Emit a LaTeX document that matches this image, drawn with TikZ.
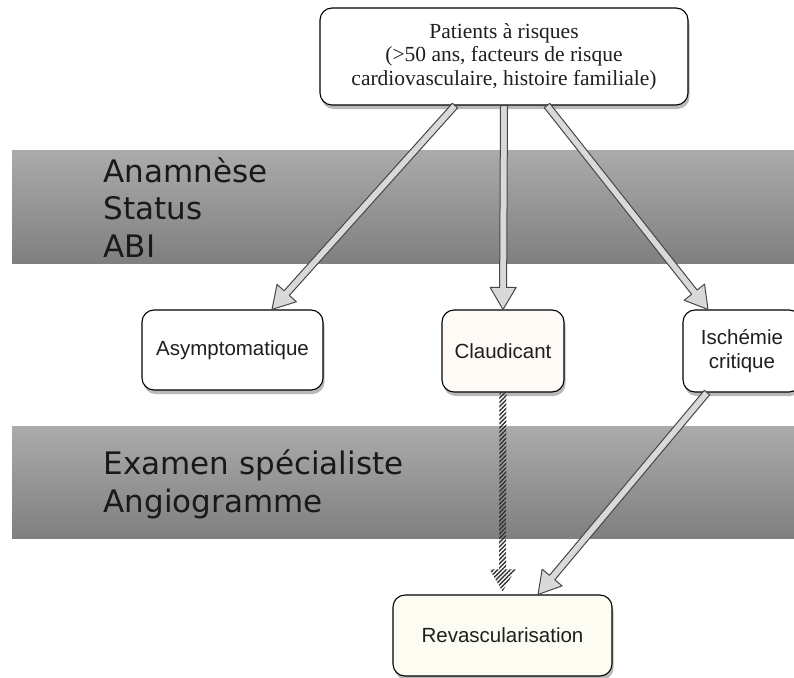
\documentclass[tikz,border=0pt]{standalone}
\usepackage{fontspec}
\setmainfont{Liberation Sans}
\newfontfamily\bandefont{DejaVu Sans}
\newfontfamily\titrefont{Liberation Serif}
\usetikzlibrary{calc,shadows,patterns.meta}

\definecolor{fondclaud}{RGB}{255,250,245}
\definecolor{fondrevasc}{RGB}{252,252,243}

\tikzset{
  boite/.style={draw=black, line width=1.1pt, rounded corners=12pt, fill=white,
    align=center, inner sep=0pt, text=black!88,
    drop shadow={shadow xshift=1.5pt, shadow yshift=-4pt, opacity=0.55},
    font=\fontsize{20.5}{24}\selectfont},
  bande/.style={top color=black!33, bottom color=black!50},
  bandetexte/.style={anchor=base west, text=black!90,
    font=\bandefont\fontsize{31}{37.5}\selectfont},
  fleche/.style={draw=black!72, fill=black!15, line width=1pt, line join=round},
  hachure/.style={pattern={Lines[angle=45,distance=3pt,line width=1.4pt]},
    pattern color=black!80},
}

% grosse fleche creuse d'un point a l'autre
\newcommand{\grossefleche}[3][fleche]{%
  \path[#1] let \p1=($(#3)-(#2)$), \n1={atan2(\y1,\x1)}, \n2={veclen(\x1,\y1)} in
    {[shift={(#2)}, rotate=\n1]
      (0pt,-3.5pt) -- ({\n2-22pt},-3.5pt) -- ({\n2-22pt},-13pt) -- ({\n2},0pt)
      -- ({\n2-22pt},13pt) -- ({\n2-22pt},3.5pt) -- (0pt,3.5pt) -- cycle};%
}

\begin{document}
\begin{tikzpicture}[x=1pt,y=-1pt]
  \useasboundingbox (0,0) rectangle (794,677);

  % Bandes grises
  \shade[bande] (12,150) rectangle (794,263);
  \shade[bande] (12,426) rectangle (794,538);
  \foreach \t/\y [count=\i] in {Anamnèse/182,Status/219.5,ABI/257} {
    \node[bandetexte] (etape\i) at (100,\y) {\t};
  }
  \foreach \t/\y [count=\i] in {Examen spécialiste/474,Angiogramme/512} {
    \node[bandetexte] (examen\i) at (100,\y) {\t};
  }

  % Boites
  \node[boite, minimum width=368pt, minimum height=97pt,
    font=\titrefont\fontsize{21.5}{23.5}\selectfont] (patients) at (504,56.5)
    {Patients à risques\\(>50 ans, facteurs de risque\\cardiovasculaire, histoire familiale)};
  \node[boite, minimum width=181pt, minimum height=80pt] (asympto) at (232.5,350) {Asymptomatique};
  \node[boite, fill=fondclaud, minimum width=122pt, minimum height=82pt] (claud) at (503,351) {Claudicant};
  \node[boite, minimum width=118pt, minimum height=82pt] (ischemie) at (742,351) {Ischémie\\critique};
  \node[boite, fill=fondrevasc, minimum width=219pt, minimum height=81pt] (revasc) at (502.5,635.5) {Revascularisation};

  % Fleches
  \grossefleche{[xshift=-49pt]patients.south}{[xshift=39.5pt]asympto.north}
  \grossefleche{patients.south}{claud.north}
  \grossefleche{[xshift=43pt]patients.south}{[xshift=-34pt]ischemie.north}
  \grossefleche{[xshift=-35pt]ischemie.south}{[xshift=35.5pt]revasc.north}
  \grossefleche[hachure]{claud.south}{[yshift=3pt]revasc.north}
\end{tikzpicture}
\end{document}
